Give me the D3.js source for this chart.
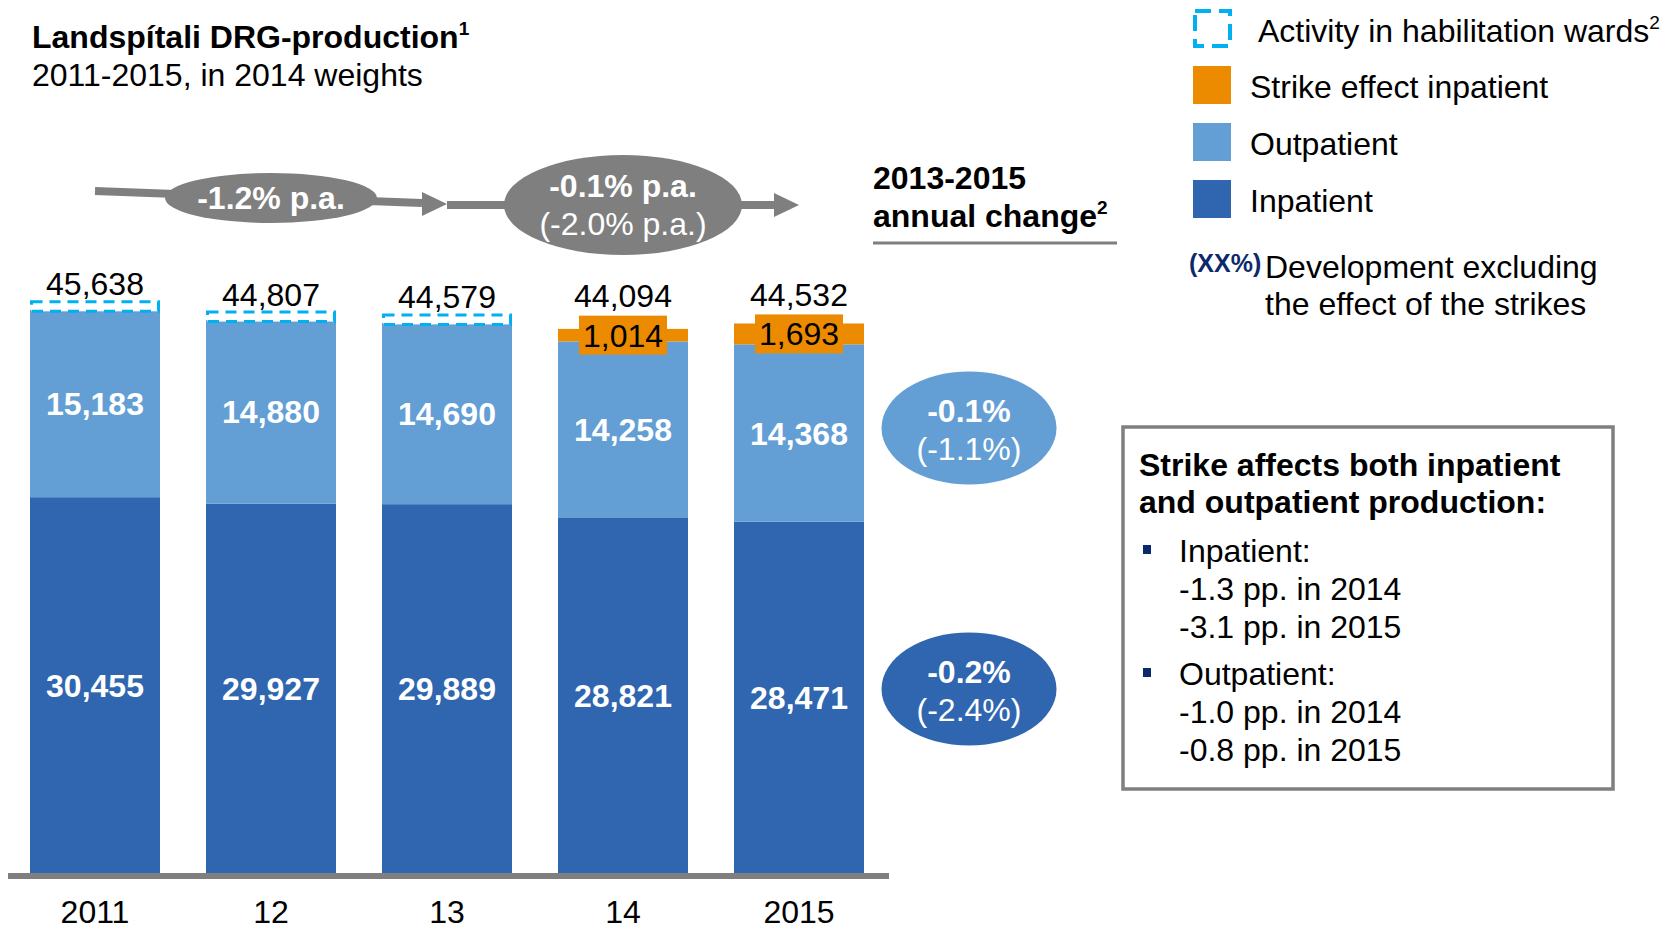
<!DOCTYPE html>
<html>
<head>
<meta charset="utf-8">
<script src="https://cdn.jsdelivr.net/npm/d3@7"></script>
<style>
  body { margin: 0; background: #fff; }
  svg text { font-family: "Liberation Sans", Arial, Helvetica, sans-serif; }
</style>
</head>
<body>
<div id="chart"></div>
<script>
const years = ['2011', '12', '13', '14', '2015'];
const inpatient = [30455, 29927, 29889, 28821, 28471];
const outpatient = [15183, 14880, 14690, 14258, 14368];
const strikeEffect = [0, 0, 0, 1014, 1693];
const totals = [45638, 44807, 44579, 44094, 44532];
const habilitation = [true, true, true, false, false];

const trendLabels = [['-1.2% p.a.'], ['-0.1% p.a.', '(-2.0% p.a.)']];
const changeOut = ['-0.1%', '(-1.1%)'];
const changeIn = ['-0.2%', '(-2.4%)'];

const C = { inp: '#3066B0', out: '#639FD5', strike: '#ED8B00', hab: '#00B0F0', grey: '#7F7F7F', navy: '#0C2A6B' };
const W = 1672, H = 929;
const FS = 32;

const svg = d3.select('#chart').append('svg').attr('width', W).attr('height', H);

const x = d3.scaleBand().domain(years).range([30, 864]).paddingInner(0.2614).paddingOuter(0);
const y = d3.scaleLinear().domain([0, 50000]).range([873, 256]);
const bw = x.bandwidth();
const cx = d => x(d) + bw / 2;

const rows = years.map((yr, i) => ({ year: yr, inpatient: inpatient[i], outpatient: outpatient[i], strike: strikeEffect[i] }));
const stack = d3.stack().keys(['inpatient', 'outpatient', 'strike'])(rows);
const fills = { inpatient: C.inp, outpatient: C.out, strike: C.strike };

function sup(sel, txt) {
  sel.append('tspan').attr('font-size', 19).attr('dy', -13).text(txt);
}

// title
const t = svg.append('text').attr('x', 32).attr('y', 48).attr('font-size', FS).attr('font-weight', 'bold').attr('fill', '#000');
t.append('tspan').text('Landspítali DRG-production');
sup(t, '1');
svg.append('text').attr('x', 32).attr('y', 86).attr('font-size', FS).text('2011-2015, in 2014 weights');

// bars
stack.forEach(layer => {
  svg.append('g').selectAll('rect').data(layer.filter(d => d[1] > d[0])).join('rect')
    .attr('x', d => x(d.data.year)).attr('width', bw)
    .attr('y', d => y(d[1])).attr('height', d => y(d[0]) - y(d[1]))
    .attr('fill', fills[layer.key]);
});

// segment labels
['inpatient', 'outpatient'].forEach(k => {
  const layer = stack.find(l => l.key === k);
  svg.append('g').selectAll('text').data(layer).join('text')
    .attr('x', d => cx(d.data.year)).attr('y', d => (y(d[0]) + y(d[1])) / 2)
    .attr('dy', '0.36em').attr('text-anchor', 'middle')
    .attr('font-size', FS).attr('font-weight', 'bold').attr('fill', '#fff')
    .text(d => d3.format(',')(d.data[k]));
});

// habilitation dashed boxes + strike label boxes + totals
years.forEach((yr, i) => {
  let labelY;
  if (habilitation[i]) {
    const yt = y(inpatient[i] + outpatient[i]);
    svg.append('rect').attr('x', x(yr) + 1.5).attr('y', yt - 8).attr('width', bw - 3).attr('height', 9.5)
      .attr('fill', '#fff').attr('stroke', C.hab).attr('stroke-width', 3).attr('stroke-dasharray', '11,7');
    labelY = yt - 14.5;
  } else {
    const mid = (y(inpatient[i] + outpatient[i]) + y(inpatient[i] + outpatient[i] + strikeEffect[i])) / 2;
    svg.append('rect').attr('x', cx(yr) - 44).attr('y', mid - 19.5).attr('width', 88).attr('height', 39).attr('fill', C.strike);
    svg.append('text').attr('x', cx(yr)).attr('y', mid).attr('dy', '0.36em').attr('text-anchor', 'middle')
      .attr('font-size', FS).attr('fill', '#000').text(d3.format(',')(strikeEffect[i]));
    labelY = mid - 28;
  }
  svg.append('text').attr('x', cx(yr)).attr('y', labelY).attr('text-anchor', 'middle')
    .attr('font-size', FS).attr('fill', '#000').text(d3.format(',')(totals[i]));
});

// baseline + year labels
svg.append('line').attr('x1', 8).attr('x2', 889).attr('y1', 876).attr('y2', 876).attr('stroke', C.grey).attr('stroke-width', 6);
svg.append('g').selectAll('text').data(years).join('text')
  .attr('x', d => cx(d)).attr('y', 923).attr('text-anchor', 'middle').attr('font-size', FS).text(d => d);

// trend arrows
function arrow(x1, y1, x2, y2) {
  const hl = 25, hw = 12;
  svg.append('line').attr('x1', x1).attr('y1', y1).attr('x2', x2 - hl).attr('y2', y2 - (y2 - y1) * hl / (x2 - x1))
    .attr('stroke', C.grey).attr('stroke-width', 8);
  svg.append('path').attr('d', `M${x2},${y2} L${x2 - hl},${y2 - hw} L${x2 - hl},${y2 + hw} Z`).attr('fill', C.grey);
}
arrow(cx(years[0]), 191, cx(years[2]), 204);
arrow(cx(years[2]), 205, cx(years[4]), 205);
svg.append('ellipse').attr('cx', cx(years[1])).attr('cy', 198).attr('rx', 106).attr('ry', 25).attr('fill', C.grey);
svg.append('text').attr('x', cx(years[1])).attr('y', 209).attr('text-anchor', 'middle')
  .attr('font-size', FS).attr('font-weight', 'bold').attr('fill', '#fff').text(trendLabels[0][0]);
svg.append('ellipse').attr('cx', cx(years[3])).attr('cy', 205).attr('rx', 119).attr('ry', 50).attr('fill', C.grey);
svg.append('text').attr('x', cx(years[3])).attr('y', 197).attr('text-anchor', 'middle')
  .attr('font-size', FS).attr('font-weight', 'bold').attr('fill', '#fff').text(trendLabels[1][0]);
svg.append('text').attr('x', cx(years[3])).attr('y', 235).attr('text-anchor', 'middle')
  .attr('font-size', FS).attr('fill', '#fff').text(trendLabels[1][1]);

// annual change header
svg.append('text').attr('x', 873).attr('y', 189).attr('font-size', FS).attr('font-weight', 'bold').text('2013-2015');
const ac = svg.append('text').attr('x', 873).attr('y', 227).attr('font-size', FS).attr('font-weight', 'bold');
ac.append('tspan').text('annual change');
sup(ac, '2');
svg.append('line').attr('x1', 873).attr('x2', 1117).attr('y1', 243).attr('y2', 243).attr('stroke', C.grey).attr('stroke-width', 3);

// change bubbles
[[changeOut, C.out, 428], [changeIn, C.inp, 689]].forEach(([lab, col, cy]) => {
  svg.append('ellipse').attr('cx', 969).attr('cy', cy).attr('rx', 87.5).attr('ry', 56.5).attr('fill', col);
  svg.append('text').attr('x', 969).attr('y', cy - 6).attr('text-anchor', 'middle').attr('font-size', FS)
    .attr('font-weight', 'bold').attr('fill', '#fff').text(lab[0]);
  svg.append('text').attr('x', 969).attr('y', cy + 32).attr('text-anchor', 'middle').attr('font-size', FS)
    .attr('fill', '#fff').text(lab[1]);
});

// legend
svg.append('rect').attr('x', 1195).attr('y', 11).attr('width', 35).attr('height', 35).attr('fill', 'none')
  .attr('stroke', C.hab).attr('stroke-width', 4).attr('stroke-dasharray', '16,8');
const la = svg.append('text').attr('x', 1258).attr('y', 42).attr('font-size', FS);
la.append('tspan').text('Activity in habilitation wards');
sup(la, '2');
[['Strike effect inpatient', C.strike, 66], ['Outpatient', C.out, 123], ['Inpatient', C.inp, 180]].forEach(([name, col, yy]) => {
  svg.append('rect').attr('x', 1193).attr('y', yy).attr('width', 38).attr('height', 38).attr('fill', col);
  svg.append('text').attr('x', 1250).attr('y', yy + 32).attr('font-size', FS).text(name);
});
svg.append('text').attr('x', 1189).attr('y', 272).attr('font-size', 25).attr('font-weight', 'bold').attr('fill', C.navy).text('(XX%)');
svg.append('text').attr('x', 1265).attr('y', 278).attr('font-size', FS).text('Development excluding');
svg.append('text').attr('x', 1265).attr('y', 315).attr('font-size', FS).text('the effect of the strikes');

// note box
svg.append('rect').attr('x', 1123).attr('y', 427).attr('width', 490).attr('height', 362)
  .attr('fill', 'none').attr('stroke', C.grey).attr('stroke-width', 3.5);
svg.append('text').attr('x', 1139).attr('y', 476).attr('font-size', FS).attr('font-weight', 'bold').text('Strike affects both inpatient');
svg.append('text').attr('x', 1139).attr('y', 513).attr('font-size', FS).attr('font-weight', 'bold').text('and outpatient production:');
const notes = [['Inpatient:', '-1.3 pp. in 2014', '-3.1 pp. in 2015'], ['Outpatient:', '-1.0 pp. in 2014', '-0.8 pp. in 2015']];
notes.forEach((grp, g) => {
  const by = g === 0 ? 562 : 685;
  svg.append('rect').attr('x', 1143).attr('y', by - 17).attr('width', 8).attr('height', 9).attr('fill', C.navy);
  grp.forEach((line, j) => {
    svg.append('text').attr('x', 1179).attr('y', by + j * 38).attr('font-size', FS).text(line);
  });
});
</script>
</body>
</html>
